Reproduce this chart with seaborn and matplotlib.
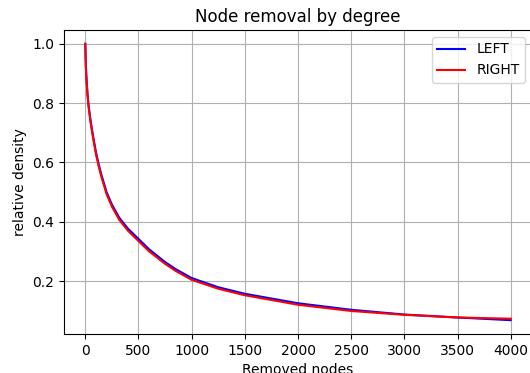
import pandas as pd
import numpy as np
import seaborn as sns
import matplotlib
matplotlib.use('Agg')
import matplotlib.pyplot as plt

# values
removed = [0, 5, 10, 20, 30, 50, 75, 100, 125, 150, 200, 250, 320, 400, 500, 600,
           750, 850, 1000, 1250, 1500, 2000, 2500, 3000, 3500, 4000]
left = [1.0, 0.93, 0.89, 0.835, 0.795, 0.74, 0.685, 0.635, 0.595, 0.56, 0.50, 0.458,
        0.413, 0.377, 0.342, 0.307, 0.264, 0.24, 0.21, 0.179, 0.157, 0.125, 0.103,
        0.087, 0.077, 0.068]
right = [1.0, 0.925, 0.885, 0.83, 0.79, 0.734, 0.678, 0.628, 0.588, 0.553, 0.493, 0.451,
         0.406, 0.37, 0.335, 0.30, 0.258, 0.234, 0.204, 0.174, 0.152, 0.12, 0.099,
         0.086, 0.077, 0.073]

df = pd.DataFrame({'Removed nodes': removed * 2,
                   'relative density': left + right,
                   'side': ['LEFT'] * len(left) + ['RIGHT'] * len(right)})

plt.rcParams['font.family'] = ['DejaVu Sans']
fig = plt.figure(figsize=(5.3, 3.73), dpi=100)
ax = fig.add_axes([0.1208, 0.1046, 0.883, 0.815])

sns.lineplot(data=df, x='Removed nodes', y='relative density', hue='side',
             palette={'LEFT': 'blue', 'RIGHT': 'red'}, ax=ax)
ax.grid(True)
ax.set_title('Node removal by degree')
ax.set_yticks([0.2, 0.4, 0.6, 0.8, 1.0])
ax.set_xticks([0, 500, 1000, 1500, 2000, 2500, 3000, 3500, 4000])
ax.legend(title=None, loc='upper right')

fig.savefig('out.png', dpi=100)
